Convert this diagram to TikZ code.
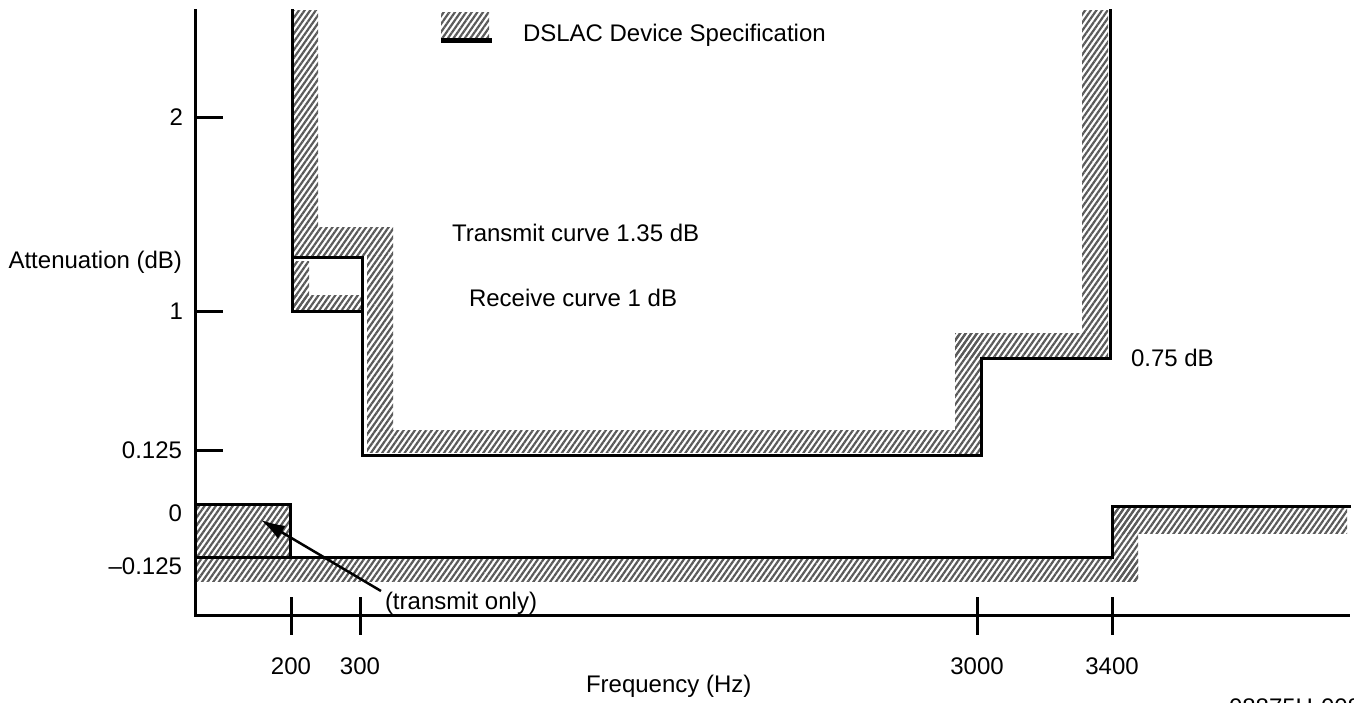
\documentclass[tikz,border=0pt]{standalone}
\usepackage{fontspec}
\setmainfont{Liberation Sans}
\usetikzlibrary{patterns.meta,arrows.meta}
\definecolor{hatchgray}{RGB}{90,90,90}
\tikzset{
  lbl/.style={font=\fontsize{24}{28}\selectfont, inner sep=0pt, outer sep=0pt},
  hatch/.style={pattern={Lines[angle=55,distance=4.6pt,line width=2.2pt]}, pattern color=hatchgray},
  curve/.style={line width=3pt, line join=miter, line cap=rect},
  axis/.style={line width=3pt},
  tick/.style={line width=3pt},
  pointer/.style={line width=2.5pt, -{Latex[length=24pt,width=15pt]}}
}
\begin{document}
\begin{tikzpicture}[x=1pt,y=-1pt]
\useasboundingbox (0,0) rectangle (1354,702);
% hatched specification bands
\fill[hatch] (293,10) rectangle (318,227);
\fill[hatch] (293,227) rectangle (393,255);
\fill[hatch] (367,255) rectangle (393,430);
\fill[hatch] (367,430) rectangle (955,452);
\fill[hatch] (955,333) rectangle (980,453);
\fill[hatch] (955,333) rectangle (1108,357);
\fill[hatch] (1082,10) rectangle (1108,333);
\fill[hatch] (294,261) rectangle (309,310);
\fill[hatch] (294,295) rectangle (361,310);
\fill[hatch] (197,505) rectangle (289,556);
\fill[hatch] (197,559) rectangle (1138,581);
\fill[hatch] (1114,507) rectangle (1138,581);
\fill[hatch] (1114,507) rectangle (1347,533);
% legend
\fill[hatch] (441,12) rectangle (489,37);
\fill[black] (441,38) rectangle (492,43);
\node[lbl, anchor=base west] (legend) at (523,41) {DSLAC Device Specification};
% axes
\draw[axis] (195,9) -- (195,615) -- (1350,615);
% y ticks
\draw[tick] (195,117) -- (223,117);
\draw[tick] (195,311) -- (223,311);
\draw[tick] (195,450) -- (223,450);
% x ticks
\foreach \xx in {291,360,977,1112} \draw[tick] (\xx,597) -- (\xx,635);
% receive / transmit curves
\draw[curve] (292,10) -- (292,311) -- (362,311) -- (362,455) -- (981,455) -- (981,358) -- (1110,358) -- (1110,10);
\draw[curve] (292,257) -- (362,257) -- (362,311);
% lower limits
\draw[curve] (195,504) -- (290,504) -- (290,557);
\draw[curve] (195,557) -- (1112,557) -- (1112,506) -- (1349,506);
% y labels
\node[lbl, anchor=base east] (y2) at (183,125.5) {2};
\node[lbl, anchor=base east] (ylab) at (182,268) {Attenuation (dB)};
\node[lbl, anchor=base east] (y1) at (183,319.5) {1};
\node[lbl, anchor=base east] (y0125) at (182,458.5) {0.125};
\node[lbl, anchor=base east] (y0) at (182,521.5) {0};
\node[lbl, anchor=base east] (ym0125) at (182,574) {\textendash0.125};
% curve labels
\node[lbl, anchor=base west] (tx) at (452,241) {Transmit curve 1.35 dB};
\node[lbl, anchor=base west] (rx) at (469,306) {Receive curve 1 dB};
\node[lbl, anchor=base west] (r075) at (1131,366) {0.75 dB};
\node[lbl, anchor=base west] (txonly) at (385,609) {(transmit only)};
\coordinate (tip) at (261,520);
\coordinate (tail) at (381,591);
\draw[pointer] (tail) -- (tip);
% x labels
\node[lbl, anchor=base] (x200) at (291,674) {200};
\node[lbl, anchor=base] (x300) at (360,674) {300};
\node[lbl, anchor=base] (x3000) at (977,674) {3000};
\node[lbl, anchor=base] (x3400) at (1112,674) {3400};
\node[lbl, anchor=base west] (xlab) at (586,692) {Frequency (Hz)};
\node[lbl, anchor=base west] (docid) at (1229,715) {08875H-008};
\end{tikzpicture}
\end{document}
